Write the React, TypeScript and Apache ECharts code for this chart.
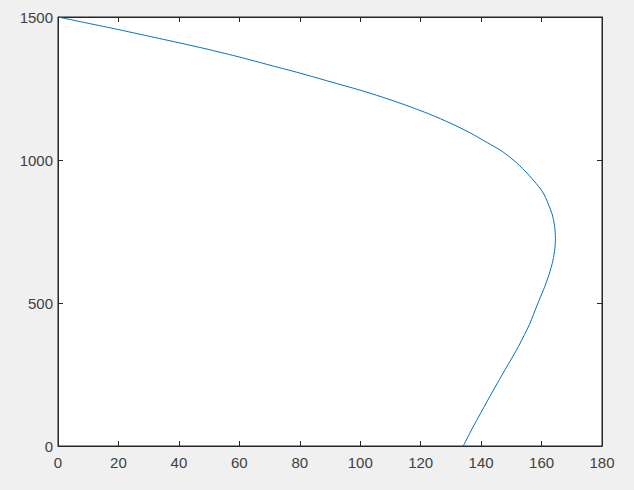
import React, { useEffect, useRef } from "react";
import * as echarts from "echarts";

const xValues = [0, 10, 20, 30, 40, 50, 60, 70, 80, 90, 100, 107, 115, 123, 130, 136, 142, 147, 151, 154.5, 157.5, 160.6, 163.4, 164.3, 164.6, 164.4, 163.8, 162.5, 160.6, 158.7, 156, 152.3, 148, 144.1, 140, 137, 134.1];
const yValues = [1500, 1478, 1456, 1433, 1410, 1386, 1360, 1332, 1304, 1274, 1244, 1221, 1192, 1160, 1128, 1097, 1061, 1030, 997, 962, 927, 884, 814, 770, 725, 690, 650, 600, 545, 497, 425, 347, 268, 196, 118, 60, 0];
const xTicks = { min: 0, max: 180, interval: 20 };
const yTicks = { min: 0, max: 1500, interval: 500 };

export default function App() {
  const ref = useRef<HTMLDivElement>(null);
  useEffect(() => {
    if (!ref.current) return;
    const chart = echarts.init(ref.current, null, { renderer: "svg" });
    const axisColor = "#262626";
    const labelColor = "#404040";
    const font = "Liberation Sans, Arial, sans-serif";
    const fmt = (v: number) => String(v);
    const baseX = {
      type: "value" as const,
      min: xTicks.min,
      max: xTicks.max,
      interval: xTicks.interval,
      axisLine: { show: true, onZero: false, lineStyle: { color: axisColor, width: 1 } },
      axisTick: { show: true, inside: true, length: 5, lineStyle: { color: axisColor } },
      splitLine: { show: false },
    };
    const baseY = {
      type: "value" as const,
      min: yTicks.min,
      max: yTicks.max,
      interval: yTicks.interval,
      axisLine: { show: true, onZero: false, lineStyle: { color: axisColor, width: 1 } },
      axisTick: { show: true, inside: true, length: 5, lineStyle: { color: axisColor } },
      splitLine: { show: false },
    };
    chart.setOption({
      animation: false,
      backgroundColor: "#f0f0f0",
      grid: {
        left: 58,
        right: 32,
        top: 17,
        bottom: 44,
        show: true,
        backgroundColor: "#ffffff",
        borderColor: axisColor,
        borderWidth: 1,
      },
      xAxis: [
        {
          ...baseX,
          position: "bottom",
          axisLabel: { show: true, color: labelColor, fontSize: 15, fontFamily: font, margin: 9, formatter: fmt },
        },
        {
          ...baseX,
          position: "top",
          axisLabel: { show: false },
        },
      ],
      yAxis: [
        {
          ...baseY,
          position: "left",
          axisLabel: { show: true, color: labelColor, fontSize: 15, fontFamily: font, margin: 5, formatter: fmt },
        },
        {
          ...baseY,
          position: "right",
          axisLabel: { show: false },
        },
      ],
      series: [
        {
          type: "line",
          xAxisIndex: 0,
          yAxisIndex: 0,
          data: xValues.map((x, i) => [x, yValues[i]]),
          showSymbol: false,
          smooth: 0.25,
          lineStyle: { color: "#0072BD", width: 1 },
        },
      ],
    });
    return () => chart.dispose();
  }, []);
  return (
    <div
      ref={ref}
      style={{ position: "fixed", left: 0, top: 0, width: 634, height: 490 }}
    />
  );
}
